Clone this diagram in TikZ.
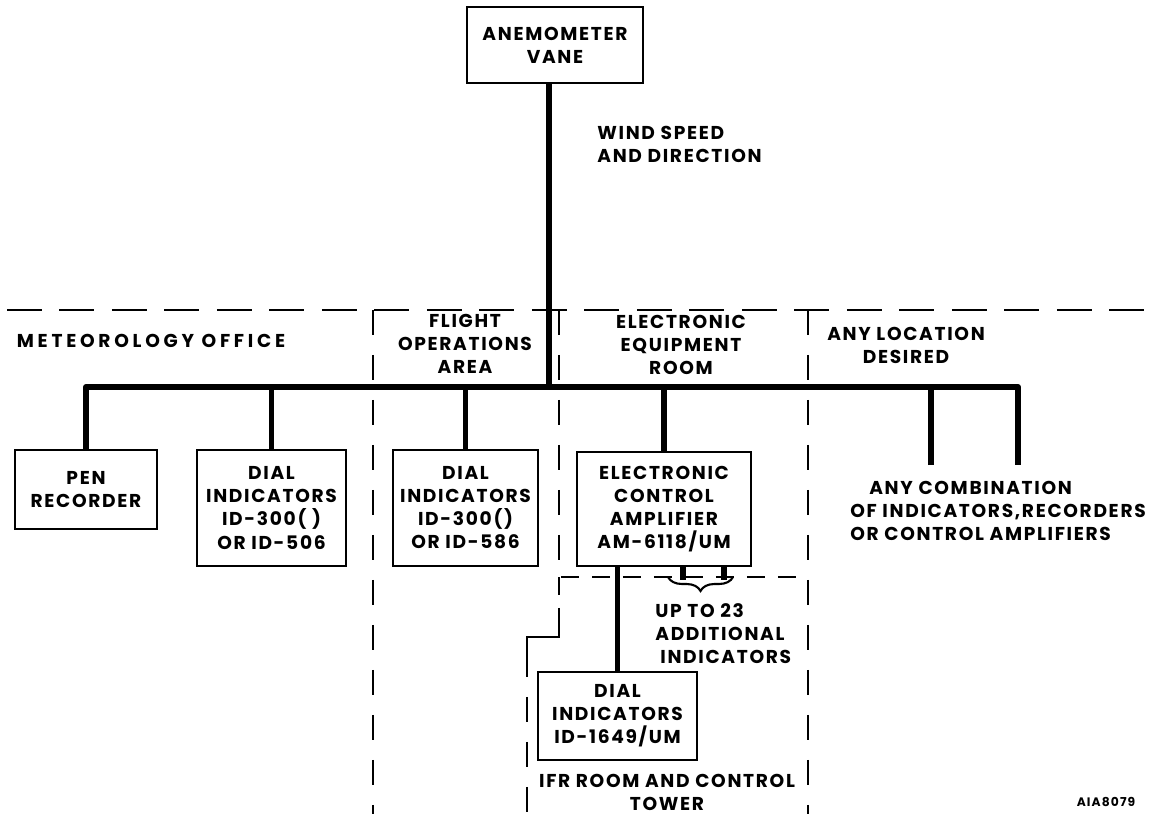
\documentclass[tikz,border=0pt]{standalone}
\usepackage{fontspec}
\setmainfont{Poppins}[LetterSpace=9]
\usepackage{tikz}
\usetikzlibrary{positioning, decorations.pathreplacing}

\begin{document}
\begin{tikzpicture}[
    x=0.02cm, y=-0.02cm,
    every node/.style={font=\fontsize{10.6}{13.1}\selectfont\bfseries, inner sep=0pt, align=center},
    unitbox/.style={rectangle, draw, line width=1.5pt, align=center},
    wire/.style={line width=3.4pt, line join=round},
    zone/.style={line width=1.2pt, dash pattern=on 0.7cm off 0.35cm},
    zonev/.style={line width=1.2pt, dash pattern=on 0.5cm off 0.4cm},
    ifrzone/.style={line width=1.2pt, dash pattern=on 0.36cm off 0.26cm},
    areatext/.style={align=center}
]
    \useasboundingbox (0,0) rectangle (1159,814);

    \node[unitbox, minimum width=3.52cm, minimum height=1.52cm] (anem) at (555,45) {ANEMOMETER\\VANE};
    \node[anchor=west, align=left] (wind) at (597,144) {WIND SPEED\\AND DIRECTION};

    \node[areatext] (met) at (151,341) {\addfontfeatures{LetterSpace=20}METEOROLOGY OFFICE};
    \node[areatext] (flight) at (465,344) {FLIGHT\\OPERATIONS\\AREA};
    \node[areatext] (eer) at (681,345) {ELECTRONIC\\EQUIPMENT\\ROOM};
    \node[areatext] (anyloc) at (906,345) {ANY LOCATION\\DESIRED};

    \node[unitbox, minimum width=2.84cm, minimum height=1.58cm] (pen) at (86,489.5) {PEN\\RECORDER};
    \node[unitbox, minimum width=2.98cm, minimum height=2.32cm] (dialA) at (271.5,508) {DIAL\\INDICATORS\\ID-300(\ )\\OR ID-506};
    \node[unitbox, minimum width=2.9cm, minimum height=2.32cm] (dialB) at (465.5,508) {DIAL\\INDICATORS\\ID-300()\\OR ID-586};
    \node[unitbox, minimum width=3.48cm, minimum height=2.28cm] (eca) at (664,509) {ELECTRONIC\\CONTROL\\AMPLIFIER\\AM-6118/UM};
    \node[unitbox, minimum width=3.18cm, minimum height=1.76cm] (dialC) at (617.5,716) {DIAL\\INDICATORS\\ID-1649/UM};

    \node[anchor=west, align=left] (combo) at (850,511) {\hspace*{0.38cm}ANY COMBINATION\\OF INDICATORS,RECORDERS\\OR CONTROL AMPLIFIERS};
    \node[anchor=west, align=left] (upto) at (655,634) {UP TO 23\\ADDITIONAL\\\hspace*{0.1cm}INDICATORS};
    \node[areatext] (ifr) at (667,792) {IFR ROOM AND CONTROL\\TOWER};
    \node[font=\fontsize{7}{8}\selectfont\bfseries] (tag) at (1106,802) {AIA8079};

    \coordinate (bus) at (549,387);
    \coordinate (anyL) at (931,465);
    \coordinate (anyR) at (1018,465);
    \coordinate (tapA) at (683,580);
    \coordinate (tapB) at (724,580);

    \draw[zone] (7,310) -- (1145,310);
    \draw[zonev] (373,310) -- (373,814);
    \draw[zonev] (559,310) -- (559,577);
    \draw[zonev] (808,310) -- (808,814);
    \draw[ifrzone] (561,577) -- (807,577);
    \draw[ifrzone] (559,577) -- (559,637);
    \draw[line width=1.2pt] (559,624) -- (559,637) -- (527,637) -- (527,652);
    \draw[zonev] (527,652) -- (527,814);

    \draw[wire] (anem.south -| bus) -- (bus);
    \draw[wire] (pen.north) -- (pen.north |- bus) -- (anyR |- bus) -- (anyR);
    \draw[wire] (dialA.north) -- (dialA.north |- bus);
    \draw[wire] (dialB.north) -- (dialB.north |- bus);
    \draw[wire] (eca.north) -- (eca.north |- bus);
    \draw[wire] (anyL) -- (anyL |- bus);
    \draw[wire] (dialC.north) -- (dialC.north |- eca.south);
    \draw[wire] (tapA |- eca.south) -- (tapA);
    \draw[wire] (tapB |- eca.south) -- (tapB);
    \draw[line width=1.2pt, decorate, decoration={brace, mirror, amplitude=0.28cm}] (668,577) -- (733,577);
\end{tikzpicture}
\end{document}
